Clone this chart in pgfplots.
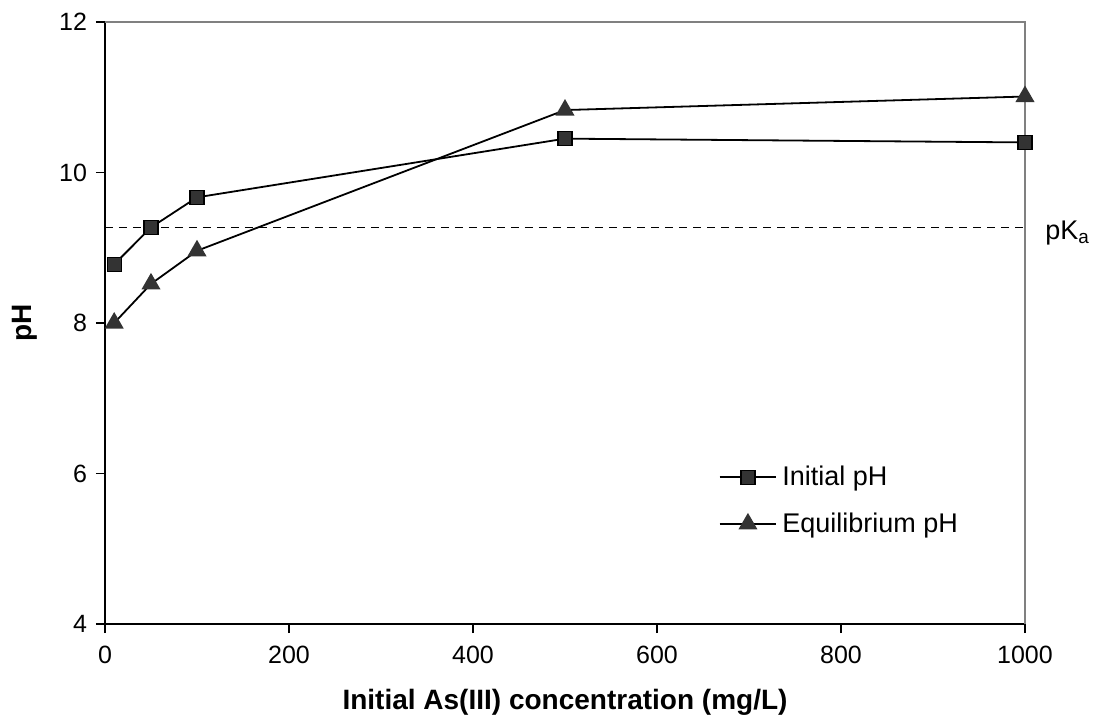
\documentclass[border=0pt]{standalone}
\usepackage{fontspec}
\setmainfont{Liberation Sans}
\usepackage{pgfplots}
\pgfplotsset{compat=1.18}

\definecolor{markfill}{HTML}{333333}

\begin{document}
\begin{tikzpicture}
\begin{axis}[
    scale only axis,
    width=460pt, height=301pt,
    xmin=0, xmax=1000,
    ymin=4, ymax=12,
    xtick={0,200,400,600,800,1000},
    ytick={4,6,8,10,12},
    axis x line*=bottom,
    axis y line*=left,
    axis line style={-, line width=0.9pt},
    tick align=outside,
    major tick length=4.5pt,
    tick style={black, line width=0.8pt},
    /pgf/number format/assume math mode=true,
    /pgf/number format/set thousands separator={},
    ticklabel style={font=\fontsize{12.5}{15}\selectfont},
    xticklabel style={yshift=-3pt},
    yticklabel style={xshift=-1pt},
    xlabel={\textbf{Initial As(III) concentration (mg/L)}},
    ylabel={\textbf{pH}},
    label style={font=\fontsize{14}{16.8}\selectfont},
    xlabel style={yshift=-6pt},
    ylabel style={yshift=4pt},
    legend style={at={(0.66,0.278)}, anchor=north west, draw=none, fill=none,
        row sep=7pt, font=\fontsize{13.5}{16}\selectfont,
        nodes={inner sep=2.5pt}},
    legend cell align=left,
    legend image code/.code={
        \draw[mark repeat=2, mark phase=2] plot coordinates {(0cm,0cm) (0.5cm,0cm) (1cm,0cm)};},
    clip=false,
]
\draw[gray, line width=0.8pt] (rel axis cs:0,1) -- (rel axis cs:1,1) -- (rel axis cs:1,0);
\coordinate (bl) at (rel axis cs:0,0);

\addplot[black, dash pattern=on 4pt off 3pt, line width=0.8pt, forget plot] coordinates {(0,9.27) (1000,9.27)};

\addplot[black, line width=0.9pt, mark=square*, mark size=3.5pt,
    mark options={fill=markfill, draw=black, line width=0.6pt, solid}]
    coordinates {(10,8.78) (50,9.27) (100,9.67) (500,10.45) (1000,10.40)};
\addlegendentry{Initial pH}

\addplot[black, line width=0.9pt, mark=triangle*, mark size=4.6pt,
    mark options={fill=markfill, draw=markfill, solid}]
    coordinates {(10,8.00) (50,8.52) (100,8.96) (500,10.83) (1000,11.01)};
\addlegendentry{Equilibrium pH}

\node[anchor=base west, font=\fontsize{13.5}{16}\selectfont, inner sep=0pt]
    at (axis cs:1000,9.27) [xshift=10pt, yshift=-6pt] {pK\textsubscript{a}};
\end{axis}
\pgfresetboundingbox
\path (bl) ++(-52.5pt,-50pt) rectangle ++(547pt,362pt);
\end{tikzpicture}
\end{document}
